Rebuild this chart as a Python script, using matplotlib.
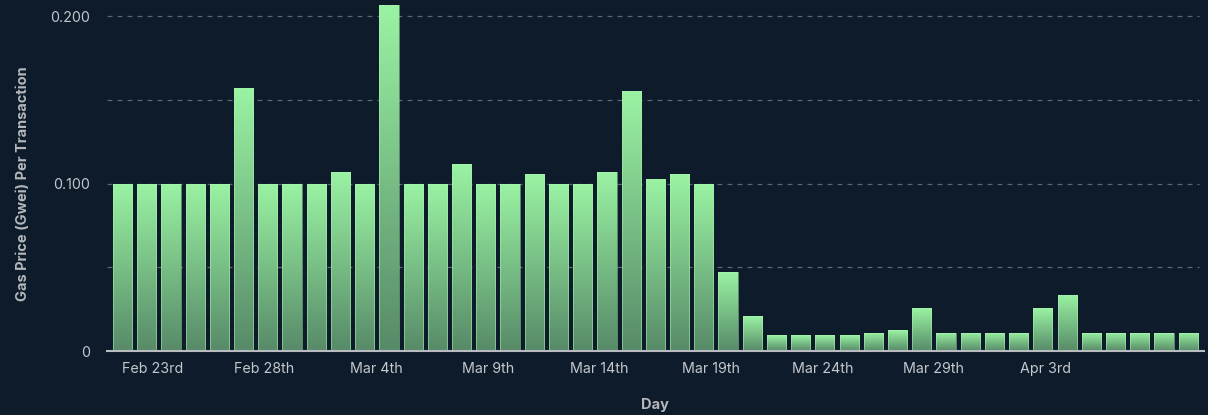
import matplotlib
matplotlib.use("Agg")
import matplotlib.pyplot as plt
import numpy as np
from matplotlib.colors import LinearSegmentedColormap

# ---- data ----
gas_price = [
    0.100, 0.100, 0.100, 0.100, 0.100, 0.157, 0.100, 0.100, 0.100, 0.107,
    0.100, 0.207, 0.100, 0.100, 0.1116, 0.100, 0.100, 0.1056, 0.100, 0.100,
    0.107, 0.1554, 0.1026, 0.1056, 0.100, 0.0472, 0.0207, 0.0094, 0.0094, 0.0094,
    0.0094, 0.011, 0.0124, 0.0255, 0.011, 0.011, 0.011, 0.011, 0.0255, 0.0337,
    0.011, 0.011, 0.011, 0.011, 0.011,
]
tick_labels = ["Feb 23rd", "Feb 28th", "Mar 4th", "Mar 9th", "Mar 14th",
               "Mar 19th", "Mar 24th", "Mar 29th", "Apr 3rd"]
y_ticks = [0, 0.1, 0.2]
y_tick_labels = ["0", "0.100", "0.200"]

BG = "#0d1b2b"
TOP_C = "#9af3a3"
BOT_C = "#578a68"
TEXT_C = "#c4c8cc"
LABEL_C = "#b4b8bc"
GRID_C = "#5a6874"

plt.rcParams['font.family'] = ['Inter', 'DejaVu Sans']

fig = plt.figure(figsize=(12.08, 4.15), dpi=100, facecolor=BG)
ax = fig.add_axes([107/1208, 64/415, 1097/1208, 350/415])
ax.set_facecolor(BG)

x = np.arange(len(gas_price))
bars = ax.bar(x, gas_price, width=0.79, color="none", edgecolor="none", zorder=3)

cmap = LinearSegmentedColormap.from_list("g", [BOT_C, TOP_C])
grad = np.linspace(0, 1, 256).reshape(-1, 1)
for b in bars:
    x0, w, h = b.get_x(), b.get_width(), b.get_height()
    im = ax.imshow(grad, cmap=cmap, origin="lower", aspect="auto",
                   extent=(x0, x0 + w, 0, h), zorder=3, interpolation="bicubic")
    im.set_clip_path(b)
    ax.bar(b.get_x() + w/2, h, width=w, color="none", edgecolor="#a8f5b0",
           linewidth=0.6, alpha=0.6, zorder=4)

ax.set_xlim(-0.64, 44.65)
ax.set_ylim(0, 0.2092)

for gy in [0.05, 0.1, 0.15, 0.2]:
    ax.axhline(gy, xmin=0, xmax=1092/1097, color=GRID_C, lw=0.9,
               dashes=(4, 4), zorder=1)

ax.set_yticks(y_ticks)
ax.set_yticklabels(y_tick_labels)
tick_pos = [1.26 + 4.605 * i for i in range(len(tick_labels))]
ax.set_xticks(tick_pos)
ax.set_xticklabels(tick_labels)
ax.tick_params(axis="both", length=0, colors=TEXT_C, labelsize=10.3)
ax.tick_params(axis="y", pad=12)
ax.tick_params(axis="x", pad=8)

for s in ["top", "right", "left"]:
    ax.spines[s].set_visible(False)
ax.spines["bottom"].set_color("#b8bcc0")
ax.spines["bottom"].set_linewidth(1.5)
ax.spines["bottom"].set_zorder(5)

fig.text(23/1208, 1 - 184/415, "Gas Price (Gwei) Per Transaction", rotation=90,
         ha="center", va="center", color=LABEL_C, fontsize=10.5, fontweight="bold")
fig.text(655/1208, 1 - 405/415, "Day", ha="center", va="center",
         color=LABEL_C, fontsize=10.5, fontweight="bold")

fig.savefig("out.png", dpi=100, facecolor=BG)
